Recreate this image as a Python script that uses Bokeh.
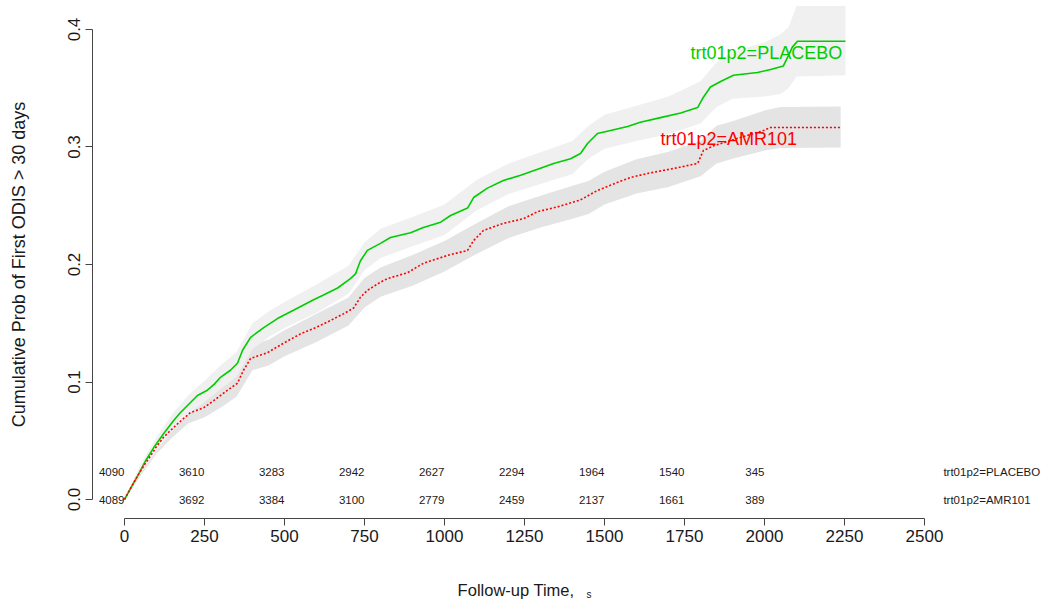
import math
from bokeh.plotting import figure
from bokeh.models import Range1d, FixedTicker, PrintfTickFormatter
from bokeh.embed import file_html
from bokeh.resources import INLINE
from bokeh.core.properties import value

FONT = "Liberation Sans"

# ---- data ----
placebo_t = [0, 20, 45, 66, 91, 122, 153, 175, 197, 228, 259, 280, 300, 331, 353, 369, 394, 434, 478,
             528, 591, 622, 666, 706, 722, 737, 759, 800, 831, 894, 934, 988, 1019, 1072, 1091, 1134,
             1184, 1238, 1291, 1341, 1394, 1425, 1447, 1478, 1519, 1572, 1612, 1675, 1738, 1791, 1806,
             1831, 1863, 1903, 1978, 2019, 2059, 2075, 2087, 2103, 2253]
placebo_p = [0, 0.010, 0.022, 0.033, 0.044, 0.056, 0.067, 0.074, 0.080, 0.0885, 0.093, 0.098, 0.104,
             0.110, 0.116, 0.127, 0.138, 0.146, 0.154, 0.161, 0.170, 0.174, 0.180, 0.188, 0.192, 0.203,
             0.212, 0.218, 0.223, 0.227, 0.2315, 0.236, 0.2417, 0.248, 0.257, 0.265, 0.2715, 0.276,
             0.281, 0.286, 0.290, 0.2945, 0.303, 0.3115, 0.314, 0.3175, 0.321, 0.325, 0.329, 0.3336,
             0.341, 0.351, 0.3557, 0.361, 0.3634, 0.366, 0.369, 0.378, 0.385, 0.390, 0.390]

amr_t = [0, 20, 45, 66, 81, 100, 122, 166, 206, 247, 278, 322, 353, 372, 394, 447, 497, 550, 591, 634,
         684, 716, 737, 759, 800, 822, 884, 934, 1009, 1072, 1091, 1122, 1184, 1247, 1291, 1353, 1425,
         1478, 1541, 1581, 1634, 1716, 1791, 1809, 1841, 1894, 1966, 1997, 2019, 2238]
amr_p = [0, 0.010, 0.022, 0.031, 0.037, 0.045, 0.053, 0.0645, 0.074, 0.078, 0.084, 0.093, 0.099, 0.110,
         0.120, 0.125, 0.133, 0.141, 0.1455, 0.151, 0.158, 0.163, 0.172, 0.178, 0.185, 0.188, 0.193,
         0.201, 0.2077, 0.212, 0.2204, 0.229, 0.235, 0.239, 0.245, 0.249, 0.255, 0.263, 0.270, 0.274,
         0.2775, 0.2817, 0.286, 0.297, 0.301, 0.3055, 0.3115, 0.314, 0.3166, 0.3166]

placebo_band_t = [0, 50, 100, 150, 200, 250, 300, 350, 400, 450, 500, 600, 700, 750, 800, 900, 1000,
                  1100, 1200, 1300, 1400, 1450, 1500, 1600, 1700, 1800, 1850, 1900, 2000, 2050, 2075,
                  2100, 2253]
placebo_band_lo = [0, 0.022, 0.041, 0.059, 0.073, 0.083, 0.094, 0.1045, 0.128, 0.138, 0.146, 0.159,
                   0.175, 0.195, 0.2055, 0.2155, 0.225, 0.246, 0.260, 0.2685, 0.277, 0.290, 0.2985,
                   0.305, 0.311, 0.320, 0.334, 0.341, 0.343, 0.345, 0.350, 0.360, 0.361]
placebo_band_hi = [0, 0.030, 0.053, 0.073, 0.089, 0.101, 0.114, 0.1255, 0.150, 0.160, 0.168, 0.183,
                   0.199, 0.219, 0.2305, 0.2405, 0.251, 0.272, 0.286, 0.2955, 0.305, 0.318, 0.3275,
                   0.335, 0.343, 0.356, 0.372, 0.381, 0.389, 0.396, 0.402, 0.420, 0.420]

amr_band_t = [0, 50, 100, 150, 200, 250, 300, 350, 400, 450, 500, 600, 700, 750, 800, 900, 1000, 1100,
              1200, 1300, 1400, 1450, 1500, 1600, 1700, 1800, 1850, 1900, 2000, 2050, 2238]
amr_band_lo = [0, 0.020, 0.039, 0.053, 0.065, 0.070, 0.078, 0.0875, 0.110, 0.114, 0.122, 0.134, 0.148,
               0.1635, 0.1725, 0.182, 0.194, 0.209, 0.2225, 0.2315, 0.239, 0.243, 0.251, 0.2605, 0.266,
               0.275, 0.286, 0.290, 0.297, 0.2991, 0.2996]
amr_band_hi = [0, 0.028, 0.051, 0.067, 0.081, 0.088, 0.098, 0.1085, 0.132, 0.136, 0.144, 0.158, 0.172,
               0.1885, 0.1975, 0.208, 0.220, 0.235, 0.2495, 0.2585, 0.267, 0.271, 0.279, 0.2895, 0.296,
               0.305, 0.318, 0.322, 0.331, 0.3341, 0.3345]

risk_times = [0, 250, 500, 750, 1000, 1250, 1500, 1750, 2000]
risk_placebo = [4090, 3610, 3283, 2942, 2627, 2294, 1964, 1540, 345]
risk_amr = [4089, 3692, 3384, 3100, 2779, 2459, 2137, 1661, 389]
group_labels = ["trt01p2=PLACEBO", "trt01p2=AMR101"]

x_ticks = [0, 250, 500, 750, 1000, 1250, 1500, 1750, 2000, 2250, 2500]
y_ticks = [0.0, 0.1, 0.2, 0.3, 0.4]

GREEN = "#00CD00"
RED = "#FF0000"
INK = "#1a1a1a"

# frame covers the whole canvas; axes are pinned at the edges of R's plot region
p = figure(width=1044, height=603, output_backend="svg", toolbar_location=None,
           x_range=Range1d(-387.5, 2875), y_range=Range1d(-0.08851, 0.42468),
           min_border_left=0, min_border_right=0, min_border_top=0, min_border_bottom=0)
p.outline_line_color = None
p.grid.visible = False
p.background_fill_color = "white"
p.border_fill_color = "white"

p.xaxis.fixed_location = -0.01617
p.yaxis.fixed_location = -100
p.xaxis.ticker = FixedTicker(ticks=x_ticks)
p.xaxis.bounds = (0, 2500)
p.yaxis.ticker = FixedTicker(ticks=y_ticks)
p.yaxis.bounds = (0, 0.4)
p.yaxis.formatter = PrintfTickFormatter(format="%.1f")
for ax in (p.xaxis, p.yaxis):
    ax.axis_line_color = "#444444"
    ax.major_tick_line_color = "#444444"
    ax.major_tick_out = 7
    ax.major_tick_in = 0
    ax.minor_tick_line_color = None
    ax.major_label_text_font = FONT
    ax.major_label_text_font_size = "17px"
    ax.major_label_text_color = INK
p.xaxis.major_label_standoff = 4
p.yaxis.major_label_orientation = "vertical"
p.yaxis.major_label_standoff = 5

# confidence bands
p.varea(x=amr_band_t, y1=amr_band_lo, y2=amr_band_hi, fill_color="#E4E4E4")
p.varea(x=placebo_band_t, y1=placebo_band_lo, y2=placebo_band_hi, fill_color="#F0F0F0")

# curves
p.line(placebo_t, placebo_p, line_color=GREEN, line_width=1.6)
p.line(amr_t, amr_p, line_color=RED, line_width=1.6, line_dash="2 2")

# curve labels
p.text(x=[1769], y=[0.380], text=[group_labels[0]], text_color=GREEN, text_font=value(FONT),
       text_font_size="18px", text_align="left", text_baseline="middle")
p.text(x=[1675], y=[0.307], text=[group_labels[1]], text_color=RED, text_font=value(FONT),
       text_font_size="18px", text_align="left", text_baseline="middle")

# numbers at risk
p.text(x=risk_times, y=[0.023] * len(risk_times), text=[str(v) for v in risk_placebo],
       text_color=INK, text_font=value(FONT), text_font_size="11.5px",
       text_align="right", text_baseline="middle")
p.text(x=risk_times, y=[0.0] * len(risk_times), text=[str(v) for v in risk_amr],
       text_color=INK, text_font=value(FONT), text_font_size="11.5px",
       text_align="right", text_baseline="middle")
p.text(x=[2559, 2559], y=[0.023, 0.0], text=group_labels, text_color=INK, text_font=value(FONT),
       text_font_size="11.5px", text_align="left", text_baseline="middle")

# axis titles
p.text(x=[-331], y=[0.2], text=["Cumulative Prob of First ODIS > 30 days"], angle=math.pi / 2,
       text_color=INK, text_font=value(FONT), text_font_size="18px",
       text_align="center", text_baseline="middle")
p.text(x=[1041], y=[-0.0774], text=["Follow-up Time,"], text_color=INK, text_font=value(FONT),
       text_font_size="16.5px", text_align="left", text_baseline="middle")
p.text(x=[1444], y=[-0.0809], text=["s"], text_color=INK, text_font=value(FONT),
       text_font_size="10px", text_align="left", text_baseline="middle")

open("out.html", "w").write(file_html(p, INLINE))
